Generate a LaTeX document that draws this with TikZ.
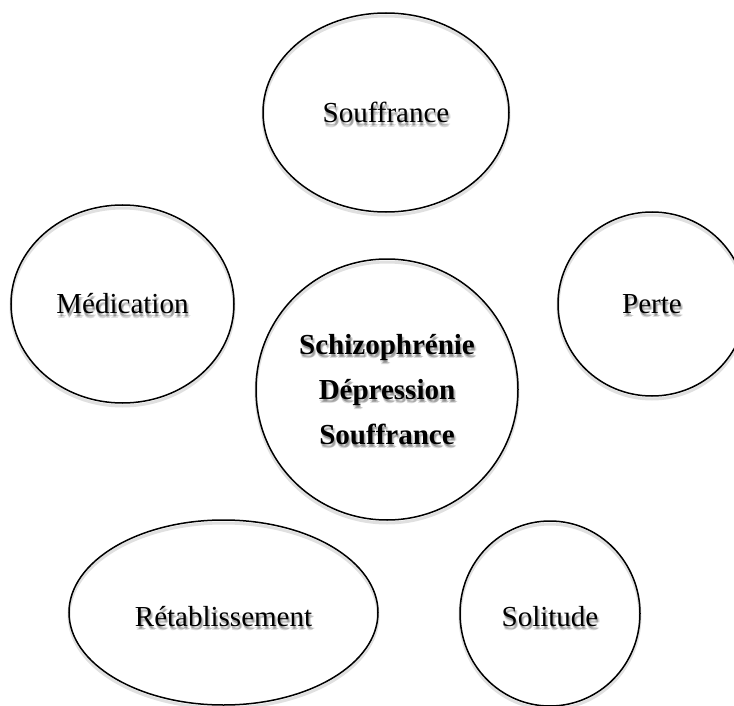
\documentclass[tikz,border=0pt]{standalone}
\usepackage{fontspec}
\setmainfont{Liberation Serif}
\usetikzlibrary{shapes.geometric,shadows}
\begin{document}
\begin{tikzpicture}[x=1pt,y=-1pt]
\tikzset{
  bubble/.style={ellipse, draw=black, line width=1.5pt, inner sep=0pt,
    drop shadow={shadow xshift=0pt, shadow yshift=-3pt, fill=none, draw=black, line width=3pt, opacity=0.12}},
  lbl/.style={inner sep=0pt, align=center, font=\fontsize{29}{45}\selectfont},
  blbl/.style={lbl, font=\fontsize{29}{45}\selectfont\bfseries},
  shd/.style={text=black, opacity=0.13}
}
\clip (0,0) rectangle (734,706);
\fill[white] (0,0) rectangle (734,706);
% ellipses
\node[bubble, minimum width=246pt, minimum height=199pt] (souf) at (386,112.5) {};
\node[bubble, minimum width=223pt, minimum height=198pt] (medi) at (122.5,304) {};
\node[bubble, minimum width=188pt, minimum height=184pt] (perte) at (652,304) {};
\node[bubble, minimum width=262pt, minimum height=261pt] (centre) at (387,389.5) {};
\node[bubble, minimum width=309pt, minimum height=185pt] (retab) at (223.5,612.5) {};
\node[bubble, minimum width=180pt, minimum height=185pt] (soli) at (550,613.5) {};
% text shadows
\foreach \dx/\dy in {0.5/2.5, 1.5/3.5, 2.5/3, 1/4.5} {
  \node[lbl, shd] at ([xshift=\dx pt, yshift=-\dy pt]souf.center) {Souffrance};
  \node[lbl, shd] at ([xshift=\dx pt, yshift=-\dy pt]medi.center) {Médication};
  \node[lbl, shd] at ([xshift=\dx pt, yshift=-\dy pt]perte.center) {Perte};
  \node[blbl, shd] at ([xshift=\dx pt, yshift=-\dy pt]centre.center) {Schizophrénie\\Dépression\\Souffrance};
  \node[lbl, shd] at ([xshift=\dx pt, yshift=-\dy-4 pt]retab.center) {Rétablissement};
  \node[lbl, shd] at ([xshift=\dx pt, yshift=-\dy-3 pt]soli.center) {Solitude};
}
% texts
\node[lbl] (tsouf) at (souf.center) {Souffrance};
\node[lbl] (tmedi) at (medi.center) {Médication};
\node[lbl] (tperte) at (perte.center) {Perte};
\node[blbl] (tcentre) at (centre.center) {Schizophrénie\\Dépression\\Souffrance};
\node[lbl] (tretab) at ([yshift=-4pt]retab.center) {Rétablissement};
\node[lbl] (tsoli) at ([yshift=-3pt]soli.center) {Solitude};
\end{tikzpicture}
\end{document}
